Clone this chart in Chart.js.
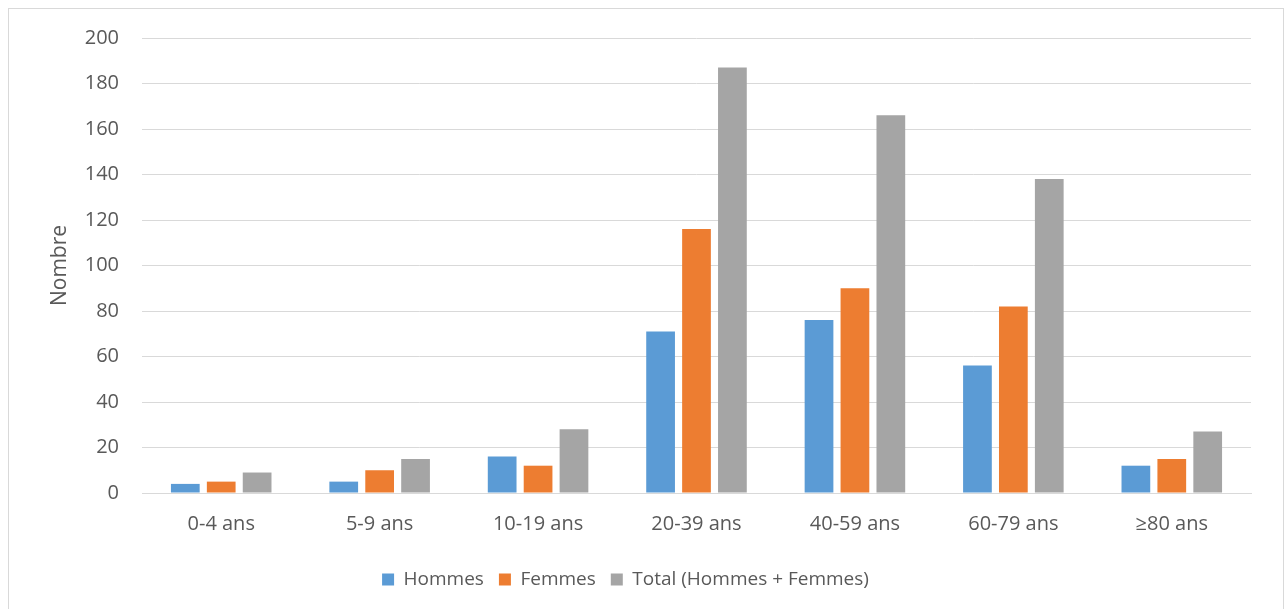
<!DOCTYPE html>
<html lang="fr">
<head>
<meta charset="utf-8">
<title>Répartition par âge et sexe</title>
<script src="https://cdn.jsdelivr.net/npm/chart.js@4.4.1/dist/chart.umd.min.js"></script>
<style>
  html, body { margin: 0; padding: 0; background: #ffffff; }
  #wrap { position: relative; width: 1284px; height: 609px; }
  canvas { display: block; }
</style>
</head>
<body>
<div id="wrap"><canvas id="chart" width="1284" height="609"></canvas></div>
<script>
// Age groups and counts per sex
const categories = ['0-4 ans', '5-9 ans', '10-19 ans', '20-39 ans', '40-59 ans', '60-79 ans', '≥80 ans'];
const hommes = [4, 5, 16, 71, 76, 56, 12];
const femmes = [5, 10, 12, 116, 90, 82, 15];
const total = [9, 15, 28, 187, 166, 138, 27];
const seriesNames = ['Hommes', 'Femmes', 'Total (Hommes + Femmes)'];
const yTicks = [0, 20, 40, 60, 80, 100, 120, 140, 160, 180, 200];

const textColor = '#595959';
const gridColor = '#D9D9D9';
const fontFamily = "'Open Sans', 'Noto Sans', sans-serif";

// Thin frame around the whole chart
const framePlugin = {
  id: 'frame',
  beforeDraw(chart) {
    const ctx = chart.ctx;
    ctx.save();
    ctx.fillStyle = '#ffffff';
    ctx.fillRect(0, 0, chart.width, chart.height);
    ctx.strokeStyle = gridColor;
    ctx.lineWidth = 1;
    ctx.strokeRect(8.5, 8.5, chart.width - 9, chart.height + 10);
    ctx.restore();
  }
};

new Chart(document.getElementById('chart'), {
  type: 'bar',
  data: {
    labels: categories,
    datasets: [
      { label: seriesNames[0], data: hommes, backgroundColor: '#5B9BD5' },
      { label: seriesNames[1], data: femmes, backgroundColor: '#ED7D31' },
      { label: seriesNames[2], data: total, backgroundColor: '#A5A5A5' }
    ]
  },
  options: {
    responsive: false,
    animation: false,
    events: [],
    datasets: {
      bar: { categoryPercentage: 0.68, barPercentage: 0.8, borderWidth: 0 }
    },
    layout: { padding: { left: 0, right: 33, top: 38, bottom: 10 } },
    scales: {
      x: {
        grid: { display: false, drawTicks: false },
        border: { display: true, color: gridColor, width: 1 },
        ticks: { color: textColor, font: { family: fontFamily, size: 20 }, padding: 19 }
      },
      y: {
        min: 0,
        max: 200,
        afterBuildTicks(scale) { scale.ticks = yTicks.map(v => ({ value: v })); },
        afterFit(scale) { scale.width = 142; },
        grid: { color: gridColor, lineWidth: 1, drawTicks: false },
        border: { display: false },
        ticks: { color: textColor, font: { family: fontFamily, size: 20 }, padding: 23 },
        title: {
          display: true,
          text: 'Nombre',
          color: textColor,
          font: { family: fontFamily, size: 21 },
          padding: { top: 47, bottom: 0 }
        }
      }
    },
    plugins: {
      legend: {
        position: 'bottom',
        labels: {
          color: textColor,
          font: { family: fontFamily, size: 19 },
          boxWidth: 12,
          boxHeight: 12,
          padding: 15
        }
      },
      tooltip: { enabled: false }
    }
  },
  plugins: [framePlugin]
});
</script>
</body>
</html>
